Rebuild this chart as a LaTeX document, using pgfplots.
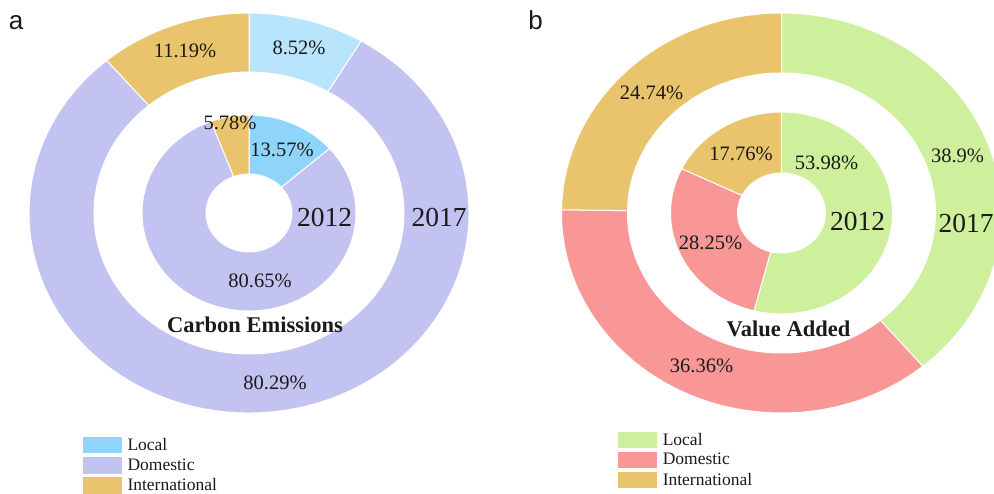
\documentclass[border=0pt]{standalone}
\usepackage{fontspec}
\setmainfont{Liberation Serif}
\newfontfamily\sansf{Liberation Sans}
\usepackage{pgfplots}
\usepackage{pgfplotstable}
\pgfplotsset{compat=1.18}

\definecolor{LocA17}{HTML}{B8E4FC}
\definecolor{LocA12}{HTML}{8FD4FA}
\definecolor{DomA}{HTML}{C3C3F1}
\definecolor{Intl}{HTML}{EAC46C}
\definecolor{LocB}{HTML}{CEF09C}
\definecolor{DomB}{HTML}{F99797}
\definecolor{txt}{HTML}{1A1A1A}

% Carbon emissions
\pgfplotstableread{
share col
8.52  LocA17
80.29 DomA
11.19 Intl
}\ceSeventeen
\pgfplotstableread{
share col
13.57 LocA12
80.65 DomA
5.78  Intl
}\ceTwelve
% Value added
\pgfplotstableread{
share col
38.9  LocB
36.36 DomB
24.74 Intl
}\vaSeventeen
\pgfplotstableread{
share col
53.98 LocB
28.25 DomB
17.76 Intl
}\vaTwelve

% #1 table, #2 cx, #3 cy, #4 rx outer, #5 ry outer, #6 rx inner, #7 ry inner
\newcommand\ring[7]{%
 \pgfplotstablegetrowsof{#1}%
 \pgfmathtruncatemacro\nrows{\pgfplotsretval-1}%
 \gdef\cum{0}%
 \foreach \k in {0,...,\nrows}{%
  \pgfplotstablegetelem{\k}{share}\of{#1}\let\v\pgfplotsretval
  \pgfplotstablegetelem{\k}{col}\of{#1}\let\c\pgfplotsretval
  \pgfmathsetmacro\aone{90-3.6*\cum}%
  \pgfmathsetmacro\atwo{90-3.6*(\cum+\v)}%
  \pgfmathsetmacro\newcum{\cum+\v}\xdef\cum{\newcum}%
  \edef\temp{\noexpand\fill[\c, draw=white, line width=1pt]
   ([shift={(\aone:#4pt and #5pt)}]axis cs:#2,#3)
   arc[start angle=\aone, end angle=\atwo, x radius=#4pt, y radius=#5pt]
   -- ([shift={(\atwo:#6pt and #7pt)}]axis cs:#2,#3)
   arc[start angle=\atwo, end angle=\aone, x radius=#6pt, y radius=#7pt]
   -- cycle;}%
  \temp
 }%
}

\pgfplotsset{
 donutaxis/.style={
  x=1pt, y=1pt, ymin=0, ymax=493, hide axis, clip=true,
  anchor=south west,
  legend image code/.code={\fill[##1, draw=none] (0pt,-8.25pt) rectangle (39pt,8.25pt);},
  legend cell align=left,
  legend style={draw=none, fill=none, inner sep=0pt, outer sep=0pt,
   row sep=3.7pt, column sep=5.5pt, anchor=north west,
   font=\fontsize{17.5}{18}\selectfont\color{txt},
   nodes={inner sep=0pt, outer sep=0pt}},
 }
}

\begin{document}
\begin{tikzpicture}
\tikzset{
 pct/.style={anchor=base, text=txt, font=\fontsize{20.5}{22}\selectfont},
 yr/.style={anchor=base, text=txt, font=\fontsize{27.5}{30}\selectfont},
 ttl/.style={anchor=base, text=txt, font=\fontsize{22.5}{24}\selectfont\bfseries},
 pan/.style={anchor=base, text=txt, font=\sansf\fontsize{26}{28}\selectfont},
}
% ---------------- panel a ----------------
\begin{axis}[donutaxis, at={(0pt,0pt)}, xmin=0, xmax=497,
 legend style={at={(axis description cs:0.167,0.1136)}}]
\addlegendimage{fill=LocA12}\addlegendentry{Local}
\addlegendimage{fill=DomA}\addlegendentry{Domestic}
\addlegendimage{fill=Intl}\addlegendentry{International}
\ring{\ceSeventeen}{249}{280}{220}{200}{155}{141}
\ring{\ceTwelve}{249}{280}{107}{98}{43}{39}
\node[pan] at (axis cs:16,463) {a};
\node[pct] at (axis cs:185,435) {11.19\%};
\node[pct] at (axis cs:299,438) {8.52\%};
\node[pct] at (axis cs:230,363) {5.78\%};
\node[pct] at (axis cs:282,336) {13.57\%};
\node[yr]  at (axis cs:324.5,266) {2012};
\node[yr]  at (axis cs:439,266) {2017};
\node[pct] at (axis cs:260,205) {80.65\%};
\node[ttl] at (axis cs:255,160) {Carbon Emissions};
\node[pct] at (axis cs:275,103) {80.29\%};
\end{axis}
% ---------------- panel b ----------------
\begin{axis}[donutaxis, at={(497pt,0pt)}, xmin=497, xmax=994,
 legend style={at={(axis description cs:0.244,0.1243)}, row sep=3.45pt}]
\addlegendimage{fill=LocB}\addlegendentry{Local}
\addlegendimage{fill=DomB}\addlegendentry{Domestic}
\addlegendimage{fill=Intl}\addlegendentry{International}
\ring{\vaSeventeen}{781.5}{280}{220}{200}{154}{140}
\ring{\vaTwelve}{781.5}{280}{111}{101}{44}{40}
\node[pan] at (axis cs:535.5,463) {b};
\node[pct] at (axis cs:651.5,393) {24.74\%};
\node[pct] at (axis cs:741,332) {17.76\%};
\node[pct] at (axis cs:826.5,323) {53.98\%};
\node[pct] at (axis cs:957.5,330) {38.9\%};
\node[yr]  at (axis cs:857.5,262) {2012};
\node[yr]  at (axis cs:966,260) {2017};
\node[pct] at (axis cs:710.5,243) {28.25\%};
\node[ttl] at (axis cs:788.5,156) {Value Added};
\node[pct] at (axis cs:701.5,120) {36.36\%};
\end{axis}
\pgfresetboundingbox
\path[use as bounding box] (0pt,0pt) rectangle (994pt,493pt);
\end{tikzpicture}
\end{document}
